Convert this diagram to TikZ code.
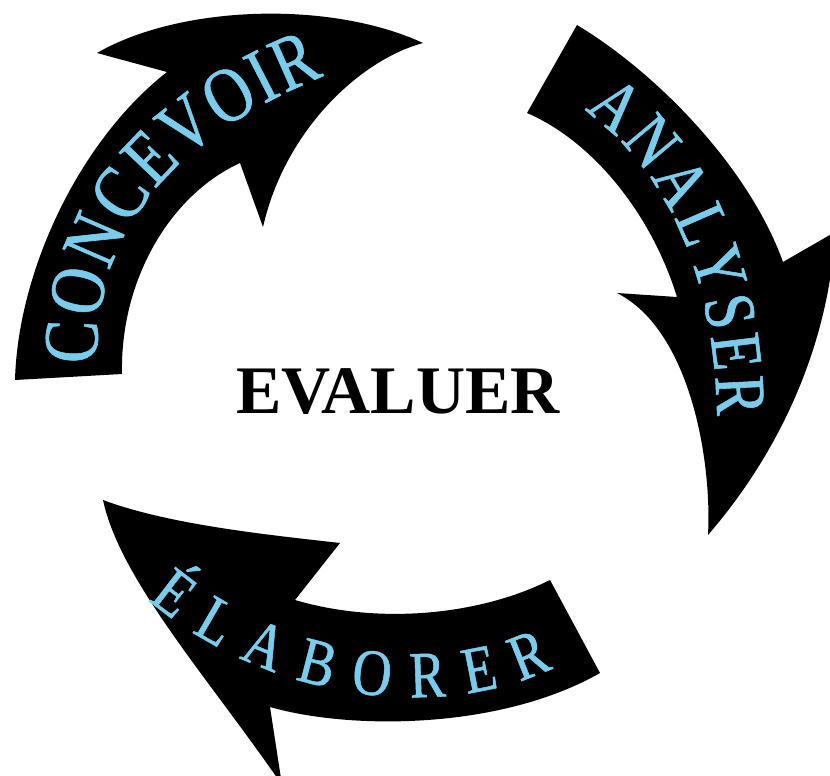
\documentclass[tikz,border=0pt]{standalone}
\usepackage{fontspec}
\setmainfont{Liberation Serif}
\newfontfamily\arcfont[FakeStretch=0.82,FakeBold=0.8]{Liberation Serif}
\usepackage{tikz}
\usetikzlibrary{decorations.text}
\definecolor{skyblue}{RGB}{122,204,236}

\begin{document}
\begin{tikzpicture}[
  x=0.5pt, y=-0.5pt,
  band/.style={fill=black, draw=none},
  arclabel/.style={
    decorate,
    decoration={text along path, text align=fit to path, text color=skyblue}
  },
  centre/.style={font=\fontsize{34}{34}\selectfont\bfseries, inner sep=0pt}
]
\useasboundingbox (0,0) rectangle (830,776);

\fill[band] (15,380) .. controls (18,270) and (80,140) .. (167,72)
  -- (97,53) .. controls (180,5) and (330,0) .. (423,43)
  .. controls (360,60) and (285,130) .. (263,227)
  -- (240,163) .. controls (170,195) and (120,280) .. (122,374) -- cycle;

\fill[band] (527,113) -- (577,25) .. controls (660,75) and (750,170) .. (783,262)
  -- (835,232) .. controls (830,330) and (790,440) .. (708,535)
  .. controls (712,460) and (690,330) .. (617,293)
  -- (677,297) .. controls (650,210) and (590,140) .. cycle;

\fill[band] (550,580) -- (600,673) .. controls (500,730) and (350,730) .. (270,707)
  -- (282,785) .. controls (210,680) and (120,580) .. (103,500)
  .. controls (170,525) and (270,535) .. (340,543)
  -- (295,600) .. controls (380,625) and (480,615) .. cycle;

\path[arclabel, decoration={text={|\arcfont\fontsize{39}{39}\selectfont|CONCEVOIR}}]
  (97,364) .. controls (94,230) and (172,138) .. (324,76);
\path[arclabel, decoration={text={|\arcfont\fontsize{36}{36}\selectfont|ANALYSER}}]
  (584,110) .. controls (650,158) and (714,250) .. (717,416);
\path[arclabel, decoration={text={|\arcfont\fontsize{33}{33}\selectfont|ÉLABORER}}]
  (148,600) .. controls (270,702) and (440,722) .. (553,668);

\node[centre] (evaluer) at (398,392) {EVALUER};
\end{tikzpicture}
\end{document}
